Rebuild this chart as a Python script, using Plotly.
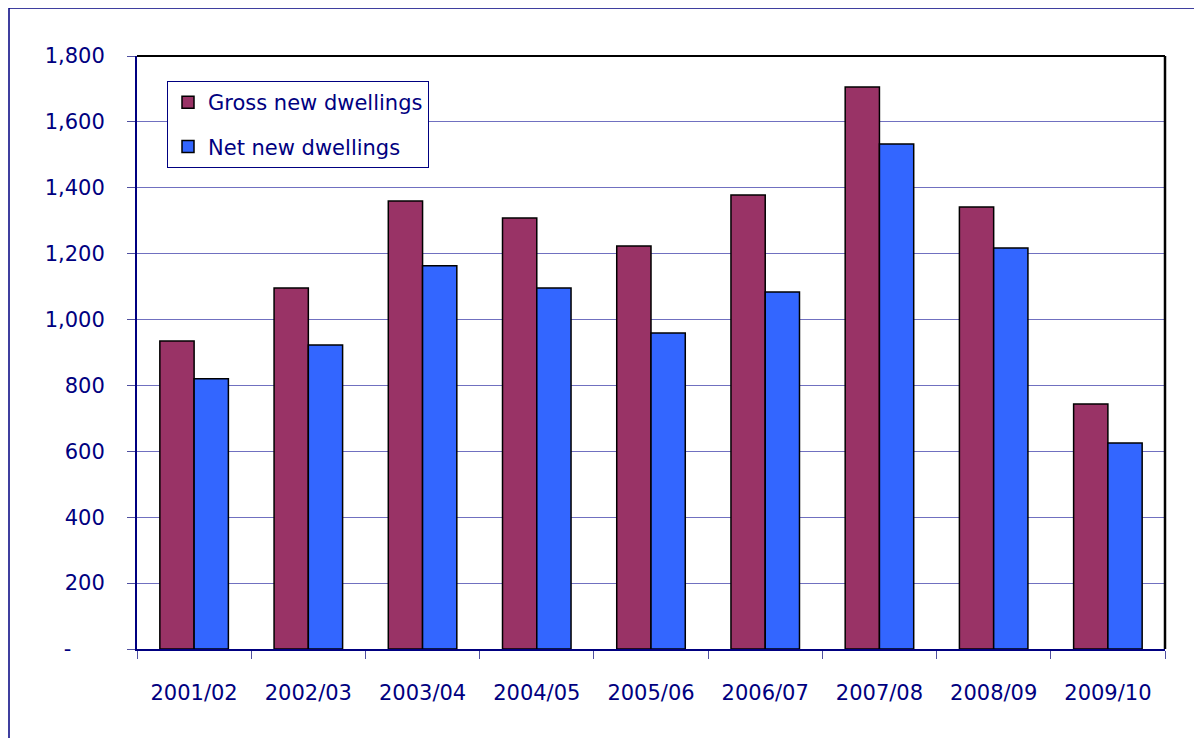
import plotly.graph_objects as go

categories = ["2001/02", "2002/03", "2003/04", "2004/05", "2005/06",
              "2006/07", "2007/08", "2008/09", "2009/10"]
gross = [935, 1096, 1360, 1308, 1223, 1378, 1706, 1342, 744]
net = [820, 923, 1163, 1096, 959, 1084, 1533, 1217, 625]
ytick_vals = [0, 200, 400, 600, 800, 1000, 1200, 1400, 1600, 1800]
ytick_text = ["-\u00a0\u00a0\u00a0\u00a0\u00a0", "200", "400", "600", "800",
              "1,000", "1,200", "1,400", "1,600", "1,800"]

NAVY = "#000080"
FONT = "DejaVu Sans"
FS = 21

fig = go.Figure()
fig.add_trace(go.Bar(x=categories, y=gross, name="Gross new dwellings", legendgroup="g",
                     marker=dict(color="#993366", line=dict(color="black", width=1.5))))
fig.add_trace(go.Bar(x=categories, y=net, name="Net new dwellings", legendgroup="n",
                     marker=dict(color="#3366FF", line=dict(color="black", width=1.5))))

W, H = 1202, 738
# target screen positions of the plot area (page has 8px body offset)
SL, SR, ST, SB = 137, 1165, 55, 648
OX, OY = 8, 7
L = SL - OX
R = W - (SR - OX)
T = ST - OY
B = H - (SB - OY)

def sx(px):
    return (px - SL) / (SR - SL)

def sy(py):
    return (SB - py) / (SB - ST)

fig.update_layout(
    width=W, height=H,
    margin=dict(l=L, r=R, t=T, b=B),
    paper_bgcolor="white", plot_bgcolor="white",
    barmode="group", bargap=0.40, bargroupgap=0,
    font=dict(family=FONT, size=FS, color=NAVY),
    showlegend=True,
    legend=dict(x=sx(167), y=sy(80), xanchor="left", yanchor="top",
                bgcolor="white", bordercolor=NAVY, borderwidth=1,
                font=dict(family=FONT, size=FS, color=NAVY),
                tracegroupgap=14, itemwidth=30),
    xaxis=dict(showline=True, linecolor=NAVY, linewidth=2, ticks="outside",
               tickson="boundaries", ticklen=8, tickcolor="#5050a0", tickwidth=1,
               ticklabelstandoff=24, showgrid=False, mirror=False,
               tickfont=dict(family=FONT, size=FS, color=NAVY)),
    yaxis=dict(range=[0, 1800], tickvals=ytick_vals, ticktext=ytick_text,
               showline=True, linecolor=NAVY, linewidth=2, ticks="outside",
               ticklen=8, tickcolor="#5050a0", tickwidth=1, ticklabelstandoff=18,
               showgrid=True, gridcolor="#7070c0", gridwidth=1, zeroline=False,
               tickfont=dict(family=FONT, size=FS, color=NAVY)),
    shapes=[
        # outer chart border
        dict(type="rect", xref="paper", yref="paper",
             x0=sx(9), x1=sx(1230), y0=sy(760), y1=sy(7),
             line=dict(color=NAVY, width=1.5), layer="below"),
        # plot area top and right frame
        dict(type="line", xref="paper", yref="paper", x0=0, x1=1, y0=1, y1=1,
             line=dict(color="black", width=2)),
        dict(type="line", xref="paper", yref="paper", x0=1, x1=1, y0=0, y1=1,
             line=dict(color="black", width=2.5)),
    ],
)

fig.write_html("out.html")
